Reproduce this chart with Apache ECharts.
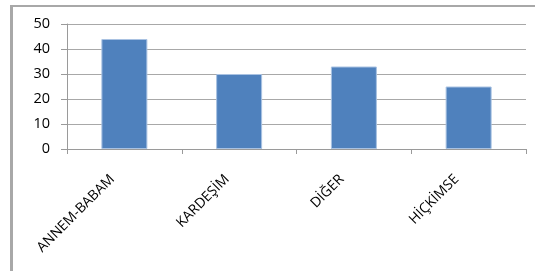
<!DOCTYPE html>
<html>
<head>
<meta charset="utf-8">
<script src="https://cdn.jsdelivr.net/npm/echarts@6/dist/echarts.min.js"></script>
<style>
html, body { margin: 0; padding: 0; background: #fff; }
#main { position: absolute; left: 0; top: 0; width: 535px; height: 271px; }
#frame {
    position: absolute; left: 10px; top: 5px; width: 525px; height: 266px;
    border-left: 3px solid #a8a8a8; border-top: 2px solid #a8a8a8;
    pointer-events: none;
}
</style>
</head>
<body>
<div id="main"></div>
<div id="frame"></div>
<script>
// kategoriler ve değerler
const categories = ['ANNEM-BABAM', 'KARDEŞİM', 'DİĞER', 'HİÇKİMSE'];
const values = [44, 30, 33, 25];
const yTicks = [0, 10, 20, 30, 40, 50];

let chart = echarts.init(document.getElementById('main'));
chart.setOption({
    animation: false,
    grid: {
        left: 67,
        right: 9,
        top: 24,
        bottom: 122
    },
    xAxis: {
        type: 'category',
        data: categories,
        axisLine: { lineStyle: { color: '#9a9a9a', width: 1 } },
        axisTick: { show: true, length: 5, lineStyle: { color: '#9a9a9a' } },
        axisLabel: {
            rotate: 45,
            color: '#000',
            fontFamily: 'Open Sans',
            fontSize: 14,
            margin: 16,
            padding: [0, 17, 0, 0]
        }
    },
    yAxis: {
        type: 'value',
        min: yTicks[0],
        max: yTicks[yTicks.length - 1],
        interval: 10,
        axisLine: { show: true, lineStyle: { color: '#9a9a9a', width: 1 } },
        axisTick: { show: true, length: 6, lineStyle: { color: '#9a9a9a' } },
        splitLine: { lineStyle: { color: '#a8a8a8', width: 1 } },
        axisLabel: {
            color: '#000',
            fontFamily: 'Open Sans',
            fontSize: 14.5,
            margin: 17
        }
    },
    series: [{
        type: 'bar',
        data: values,
        barWidth: 46,
        itemStyle: {
            color: '#4f81bd',
            borderColor: '#a9c2e2',
            borderWidth: 1
        }
    }]
});
</script>
</body>
</html>
